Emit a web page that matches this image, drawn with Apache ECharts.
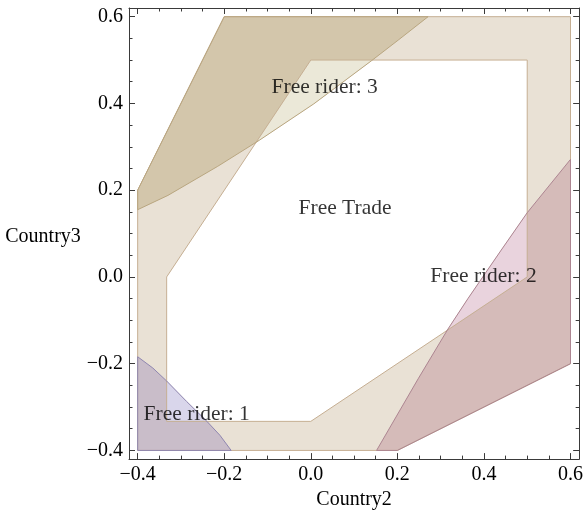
<!DOCTYPE html>
<html><head><meta charset="utf-8">
<script src="https://cdn.jsdelivr.net/npm/echarts@6/dist/echarts.min.js"></script>
<style>html,body{margin:0;padding:0;background:#fff}#c{width:586px;height:515px}</style>
</head><body><div id="c"></div>
<script>
// ---- data ----
const xMajorTicks = [-0.4, -0.2, 0, 0.2, 0.4, 0.6];
const yMajorTicks = [-0.4, -0.2, 0, 0.2, 0.4, 0.6];
const xMinorTicks = [-0.35, -0.3, -0.25, -0.15, -0.1, -0.05, 0.05, 0.1, 0.15, 0.25, 0.3, 0.35, 0.45, 0.5, 0.55];
const yMinorTicks = [-0.35, -0.3, -0.25, -0.15, -0.1, -0.05, 0.05, 0.1, 0.15, 0.25, 0.3, 0.35, 0.45, 0.5, 0.55];

const freeTradeOuter = [[-0.4, -0.4], [-0.4, 0.2], [-0.2, 0.6], [0.6, 0.6], [0.6, -0.2], [0.2, -0.4]];
const freeTradeInner = [[-0.333, -0.333], [0, -0.333], [0.5, 0], [0.5, 0.5], [0, 0.5], [-0.333, 0]];
const freeRider3 = [[-0.4, 0.2], [-0.2, 0.6], [0.271, 0.6], [0.202, 0.546], [0.141, 0.499], [0.007, 0.399],
  [-0.119, 0.315], [-0.215, 0.255], [-0.33, 0.188], [-0.4, 0.155]];
const freeRider2 = [[0.6, 0.271], [0.5, 0.148], [0.44, 0.062], [0.363, -0.05], [0.317, -0.12], [0.248, -0.235],
  [0.152, -0.4], [0.2, -0.4], [0.6, -0.2]];
const freeRider1 = [[-0.4, -0.4], [-0.4, -0.184], [-0.365, -0.21], [-0.333, -0.24], [-0.287, -0.287],
  [-0.24, -0.333], [-0.21, -0.365], [-0.184, -0.4]];

const labelTexts = ['Free rider: 3', 'Free Trade', 'Free rider: 2', 'Free rider: 1'];
const labelX = [0.032, 0.079, 0.399, -0.2635];
const labelY = [0.437, 0.159, 0.002, -0.316];

// ---- helpers ----
// Sutherland-Hodgman clip of a polygon against a convex counter-clockwise polygon
function clipConvex(subject, clip) {
  let out = subject.slice();
  for (let i = 0; i < clip.length && out.length; i++) {
    const a = clip[i], b = clip[(i + 1) % clip.length];
    const inside = p => (b[0] - a[0]) * (p[1] - a[1]) - (b[1] - a[1]) * (p[0] - a[0]) >= 0;
    const inter = (p, q) => {
      const dx = q[0] - p[0], dy = q[1] - p[1];
      const ex = b[0] - a[0], ey = b[1] - a[1];
      const t = (ex * (p[1] - a[1]) - ey * (p[0] - a[0])) / (ey * dx - ex * dy);
      return [p[0] + t * dx, p[1] + t * dy];
    };
    const input = out; out = [];
    for (let j = 0; j < input.length; j++) {
      const cur = input[j], prev = input[(j + input.length - 1) % input.length];
      const ci = inside(cur), pi = inside(prev);
      if (ci) { if (!pi) out.push(inter(prev, cur)); out.push(cur); }
      else if (pi) out.push(inter(prev, cur));
    }
  }
  return out;
}

const FONT = 'Liberation Serif';
const AX = '#3a3a3a';
const chart = echarts.init(document.getElementById('c'), null, {renderer: 'canvas'});

function polySeries(name, pts, fill, stroke, lw) {
  return {
    type: 'custom', name: name, coordinateSystem: 'cartesian2d',
    xAxisIndex: 0, yAxisIndex: 0, clip: false, silent: true,
    data: [[0, 0]],
    renderItem: function (params, api) {
      return {
        type: 'polygon',
        shape: {points: pts.map(p => api.coord(p))},
        style: {fill: fill || 'none', stroke: stroke || 'none', lineWidth: lw || 1}
      };
    }
  };
}

const fmt = v => (v < -1e-9 ? '\u2212' : '') + Math.abs(v).toFixed(1);
const range = {min: -0.42, max: 0.62};

function axis(pos, ticks, major, label, extra) {
  return Object.assign({
    type: 'value', position: pos, min: range.min, max: range.max,
    splitLine: {show: false},
    axisLine: {show: major, onZero: false, lineStyle: {color: AX, width: 1}},
    axisTick: {show: true, inside: true, length: major ? 6 : 3.5, customValues: ticks, lineStyle: {color: AX, width: 1}},
    axisLabel: label ? {show: true, customValues: ticks, formatter: fmt, fontFamily: FONT, fontSize: 20, color: '#000', margin: 6} : {show: false}
  }, extra || {});
}

const bandFill = '#e9e1d5', bandStroke = '#c6af93';
const regions = [
  {name: 'Free rider: 3', pts: freeRider3, over: '#d3c6ab', white: '#ebe8d8', stroke: '#b9a680'},
  {name: 'Free rider: 2', pts: freeRider2, over: '#d5bbb9', white: '#e9d3dd', stroke: '#ad8591'},
  {name: 'Free rider: 1', pts: freeRider1, over: '#c9bdc9', white: '#d9d6eb', stroke: '#8f86b0'}
];

const series = [
  polySeries('Free Trade', freeTradeOuter, bandFill, null),
  polySeries('Interior', freeTradeInner, '#ffffff', null)
];
regions.forEach(r => series.push(polySeries(r.name, r.pts, r.over, null)));
regions.forEach(r => series.push(polySeries(r.name + ' (interior)', clipConvex(r.pts, freeTradeInner), r.white, null)));
series.push(polySeries('Interior edge', freeTradeInner, null, bandStroke));
series.push(polySeries('Outer edge', freeTradeOuter, null, bandStroke));
regions.forEach(r => series.push(polySeries(r.name + ' edge', r.pts, null, r.stroke)));
series.push({
  type: 'scatter', xAxisIndex: 0, yAxisIndex: 0, symbolSize: 0, silent: true,
  data: labelTexts.map((t, i) => ({value: [labelX[i], labelY[i]], name: t})),
  label: {show: true, position: 'inside', formatter: p => p.name, fontFamily: FONT, fontSize: 21.5, color: '#000'}
});

const option = {
  backgroundColor: '#ffffff',
  animation: false,
  grid: {left: 129, right: 5, top: 8, bottom: 55, containLabel: false},
  xAxis: [
    axis('bottom', xMajorTicks, true, true, {name: 'Country2', nameLocation: 'middle', nameGap: 30,
      nameTextStyle: {fontFamily: FONT, fontSize: 20, color: '#000'}}),
    axis('bottom', xMinorTicks, false, false),
    axis('top', xMajorTicks, true, false),
    axis('top', xMinorTicks, false, false)
  ],
  yAxis: [
    axis('left', yMajorTicks, true, true, {name: 'Country3', nameLocation: 'middle', nameGap: 44, nameRotate: 0,
      nameTextStyle: {fontFamily: FONT, fontSize: 20, color: '#000', verticalAlign: 'top', lineHeight: 6}}),
    axis('left', yMinorTicks, false, false),
    axis('right', yMajorTicks, true, false),
    axis('right', yMinorTicks, false, false)
  ],
  series: series
};
chart.setOption(option);
</script></body></html>
